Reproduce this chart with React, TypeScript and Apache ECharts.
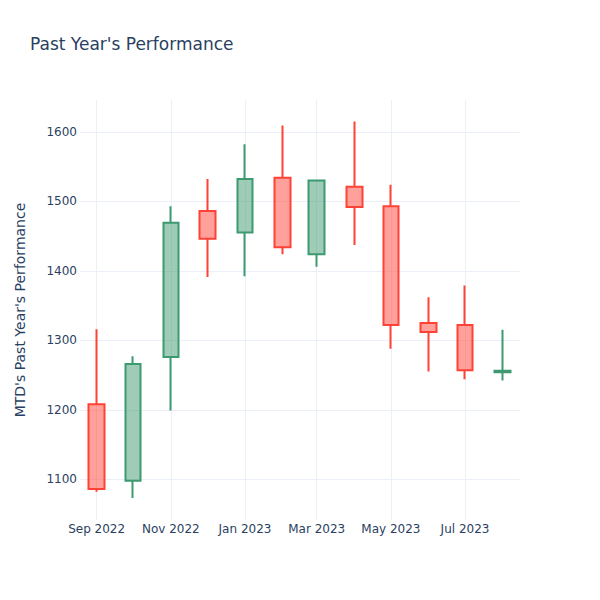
import React, { useEffect, useRef } from 'react';
import * as echarts from 'echarts';

const months = ['2022-09-01', '2022-10-01', '2022-11-01', '2022-12-01', '2023-01-01', '2023-02-01', '2023-03-01', '2023-04-01', '2023-05-01', '2023-06-01', '2023-07-01', '2023-08-01'];
const openV = [1208, 1098, 1276, 1486, 1455, 1534, 1424, 1521, 1493, 1325, 1322, 1254];
const closeV = [1086, 1266, 1469, 1446, 1532, 1434, 1530, 1492, 1322, 1312, 1257, 1256];
const lowV = [1082, 1073, 1199, 1391, 1392, 1424, 1406, 1437, 1288, 1255, 1244, 1242];
const highV = [1316, 1277, 1493, 1532, 1582, 1609, 1531, 1615, 1524, 1362, 1379, 1315];

const xTickDates = ['2022-09-01', '2022-11-01', '2023-01-01', '2023-03-01', '2023-05-01', '2023-07-01'];
const xTickLabels = ['Sep 2022', 'Nov 2022', 'Jan 2023', 'Mar 2023', 'May 2023', 'Jul 2023'];
const yTicks = [1100, 1200, 1300, 1400, 1500, 1600];

const DAY = 86400000;
function ts(s: string): number {
  const [y, m, d] = s.split('-').map(Number);
  return Date.UTC(y, m - 1, d);
}

export default function App() {
  const ref = useRef<HTMLDivElement>(null);
  useEffect(() => {
    if (!ref.current) return;
    const chart = echarts.init(ref.current, null, { renderer: 'svg' });
    const font = 'DejaVu Sans';
    const textColor = '#2a3f5f';
    const grid = '#EBF0F8';
    const xTickTs = xTickDates.map(ts);
    chart.setOption({
      animation: false,
      backgroundColor: '#fff',
      title: {
        text: "Past Year's Performance",
        left: 30,
        top: 35,
        padding: 0,
        textStyle: { fontFamily: font, fontSize: 17, fontWeight: 'normal', color: textColor },
      },
      grid: { left: 80, right: 80, top: 100, bottom: 80, containLabel: false },
      xAxis: {
        type: 'value',
        scale: true,
        min: ts(months[0]) - 13.7 * DAY,
        max: ts(months[months.length - 1]) + 14.2 * DAY,
        axisLine: { show: false },
        axisTick: { show: false, customValues: xTickTs },
        splitLine: { show: true, lineStyle: { color: grid, width: 1 } },
        axisLabel: {
          customValues: xTickTs,
          margin: 3,
          fontFamily: font,
          fontSize: 12,
          color: textColor,
          formatter: (v: number) => {
            const i = xTickTs.findIndex((t) => Math.abs(t - v) < DAY / 2);
            return i >= 0 ? xTickLabels[i] : '';
          },
        },
      },
      yAxis: {
        type: 'value',
        min: 1041.4,
        max: 1645.8,
        name: "MTD's Past Year's Performance",
        nameLocation: 'middle',
        nameRotate: 90,
        nameGap: 53,
        nameTextStyle: { fontFamily: font, fontSize: 14, color: textColor },
        axisLine: { show: false },
        axisTick: { show: false, customValues: yTicks },
        splitLine: { show: true, lineStyle: { color: grid, width: 1 } },
        axisLabel: {
          customValues: yTicks,
          margin: 3,
          fontFamily: font,
          fontSize: 12,
          color: textColor,
          formatter: (v: number) => String(v),
        },
      },
      series: [
        {
          type: 'candlestick',
          barWidth: 16,
          encode: { x: 0, y: [1, 2, 3, 4] },
          itemStyle: {
            color: 'rgba(61,153,112,0.5)',
            color0: 'rgba(255,65,54,0.5)',
            borderColor: '#3D9970',
            borderColor0: '#FF4136',
            borderWidth: 2,
          },
          data: months.map((m, i) => [ts(m), openV[i], closeV[i], lowV[i], highV[i]]),
        },
      ],
    });
    return () => chart.dispose();
  }, []);
  return (
    <div
      ref={ref}
      style={{ position: 'fixed', left: 0, top: 0, width: 600, height: 600, background: '#fff' }}
    />
  );
}
